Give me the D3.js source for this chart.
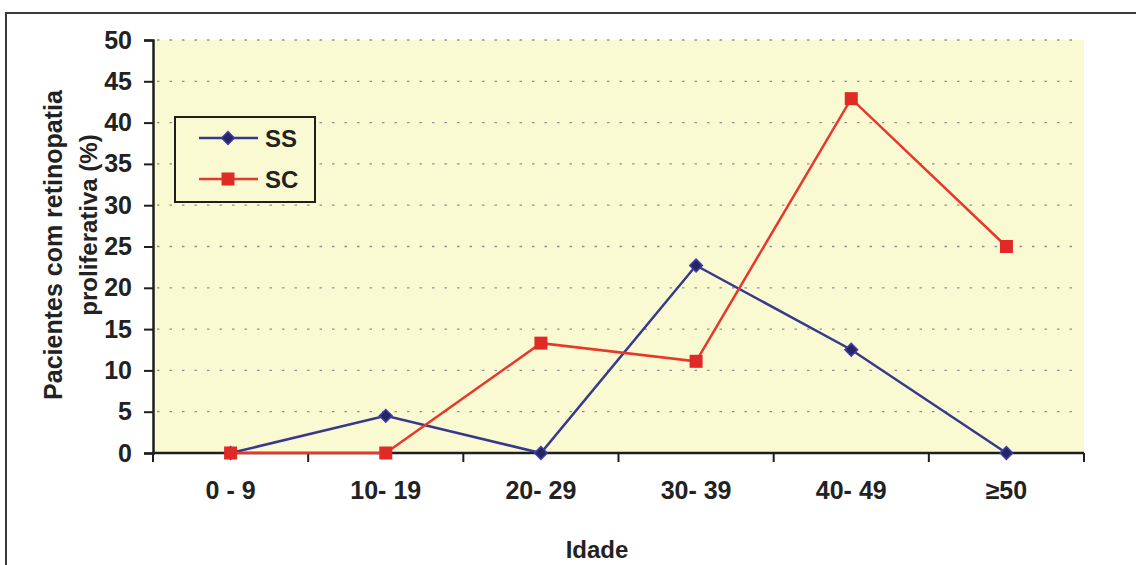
<!DOCTYPE html>
<html>
<head>
<meta charset="utf-8">
<script src="https://cdn.jsdelivr.net/npm/d3@7"></script>
<style>
  body { margin: 0; background: #ffffff; }
  text { font-family: "Liberation Sans", Arial, sans-serif; font-weight: bold; fill: #222222; }
</style>
</head>
<body>
<script>
// chart values
const ageGroups = ["0 - 9", "10- 19", "20- 29", "30- 39", "40- 49", "\u226550"];
const ssValues = [0, 4.5, 0, 22.7, 12.5, 0];
const scValues = [0, 0, 13.3, 11.1, 42.9, 25.0];
const yTicks = [0, 5, 10, 15, 20, 25, 30, 35, 40, 45, 50];
const seriesNames = ["SS", "SC"];

function main() {
    const canvasWidth = 1136;
    const canvasHeight = 565;

    const svg = d3.select("body").append("svg")
        .attr("width", canvasWidth)
        .attr("height", canvasHeight)

    // outer frame of the chart
    svg.append("rect")
        .attr("x", 6).attr("y", 13)
        .attr("width", canvasWidth + 20).attr("height", canvasHeight + 20)
        .style("fill", "none")
        .style("stroke", "#3a3a3a")
        .style("stroke-width", 2)

    const left = 153, right = 1084, top = 40, bottom = 453;

    const xBand = d3.scaleBand().domain(ageGroups).range([left, right]);
    const xScale = d3.scalePoint().domain(ageGroups).range([left + xBand.bandwidth() / 2, right - xBand.bandwidth() / 2]);
    const yScale = d3.scaleLinear().domain([0, 50]).range([bottom, top]);

    // plot area
    svg.append("rect")
        .attr("x", left).attr("y", top)
        .attr("width", right - left).attr("height", bottom - top)
        .style("fill", "#fafad2")

    // dotted grid
    svg.append("g")
        .selectAll("line")
        .data(yTicks.filter(d => d > 0))
        .enter()
        .append("line")
        .attr("x1", left + 4).attr("x2", right - 2)
        .attr("y1", d => yScale(d)).attr("y2", d => yScale(d))
        .style("stroke", "#8f8f8f")
        .style("stroke-width", 1.3)
        .style("stroke-dasharray", "2.5,10")

    // y axis
    const yAxis = svg.append("g")
        .attr("transform", "translate(" + left + ",0)")
        .call(d3.axisLeft(yScale).tickValues(yTicks).tickSize(9).tickPadding(12))
    yAxis.select(".domain").style("stroke", "#1e1e1e").style("stroke-width", 2.5)
    yAxis.selectAll(".tick line").style("stroke", "#1e1e1e").style("stroke-width", 2)
    yAxis.selectAll(".tick text")
        .style("font-family", "Liberation Sans, Arial, sans-serif")
        .style("font-weight", "bold")
        .style("font-size", "25px")
        .style("fill", "#222222")

    // x axis: ticks between categories
    const xAxis = svg.append("g")
        .attr("transform", "translate(0," + bottom + ")")
    xAxis.append("line")
        .attr("x1", left).attr("x2", right)
        .style("stroke", "#1e1e1e").style("stroke-width", 2.5)
    xAxis.selectAll(".xtick")
        .data(ageGroups.concat(["end"]))
        .enter()
        .append("line")
        .attr("class", "xtick")
        .attr("x1", (d, i) => i < ageGroups.length ? xBand(d) : right)
        .attr("x2", (d, i) => i < ageGroups.length ? xBand(d) : right)
        .attr("y1", 0).attr("y2", 9)
        .style("stroke", "#1e1e1e").style("stroke-width", 2)
    xAxis.selectAll(".xlabel")
        .data(ageGroups)
        .enter()
        .append("text")
        .attr("class", "xlabel")
        .attr("x", d => xScale(d))
        .attr("y", 46)
        .attr("text-anchor", "middle")
        .style("font-size", "25px")
        .text(d => d)

    // axis titles
    svg.append("text")
        .attr("x", 597).attr("y", 558)
        .attr("text-anchor", "middle")
        .style("font-size", "24px")
        .text("Idade")

    svg.append("text")
        .attr("transform", "translate(62,245) rotate(-90)")
        .attr("text-anchor", "middle")
        .style("font-size", "25px")
        .text("Pacientes com retinopatia")

    svg.append("text")
        .attr("transform", "translate(97,225) rotate(-90)")
        .attr("text-anchor", "middle")
        .style("font-size", "24px")
        .text("proliferativa (%)")

    const line = d3.line()
        .x((d, i) => xScale(ageGroups[i]))
        .y(d => yScale(d))

    const ssColor = "#38388c";
    const scColor = "#e8382c";

    // SS series
    svg.append("path")
        .datum(ssValues)
        .attr("d", line)
        .style("fill", "none")
        .style("stroke", ssColor)
        .style("stroke-width", 2.5)
    const diamond = d3.symbol().type(d3.symbolSquare).size(80);
    svg.selectAll(".ss")
        .data(ssValues)
        .enter()
        .append("path")
        .attr("class", "ss")
        .attr("d", diamond)
        .attr("transform", (d, i) => "translate(" + xScale(ageGroups[i]) + "," + yScale(d) + ") rotate(45)")
        .style("fill", "#252560")
        .style("stroke", "#3c3caa")
        .style("stroke-width", 1.5)

    // SC series
    svg.append("path")
        .datum(scValues)
        .attr("d", line)
        .style("fill", "none")
        .style("stroke", scColor)
        .style("stroke-width", 2.5)
    svg.selectAll(".sc")
        .data(scValues)
        .enter()
        .append("rect")
        .attr("class", "sc")
        .attr("x", (d, i) => xScale(ageGroups[i]) - 6.5)
        .attr("y", d => yScale(d) - 6.5)
        .attr("width", 13).attr("height", 13)
        .style("fill", "#e02a26")

    // legend
    const legend = svg.append("g")
    legend.append("rect")
        .attr("x", 175).attr("y", 117)
        .attr("width", 140).attr("height", 85)
        .style("fill", "#fafad2")
        .style("stroke", "#1e1e1e")
        .style("stroke-width", 2)

    const legendRows = legend.selectAll(".row")
        .data(seriesNames)
        .enter()
        .append("g")
        .attr("class", "row")
        .attr("transform", (d, i) => "translate(0," + (138 + i * 41) + ")")
    legendRows.append("line")
        .attr("x1", 199).attr("x2", 258)
        .style("stroke", (d, i) => i === 0 ? ssColor : scColor)
        .style("stroke-width", 2.5)
    legendRows.filter((d, i) => i === 0).append("path")
        .attr("d", diamond)
        .attr("transform", "translate(228,0) rotate(45)")
        .style("fill", "#252560")
        .style("stroke", "#3c3caa")
        .style("stroke-width", 1.5)
    legendRows.filter((d, i) => i === 1).append("rect")
        .attr("x", 221.5).attr("y", -6.5)
        .attr("width", 13).attr("height", 13)
        .style("fill", "#e02a26")
    legendRows.append("text")
        .attr("x", 265).attr("y", 9)
        .style("font-size", "24px")
        .text(d => d)
}
main();
</script>
</body>
</html>
